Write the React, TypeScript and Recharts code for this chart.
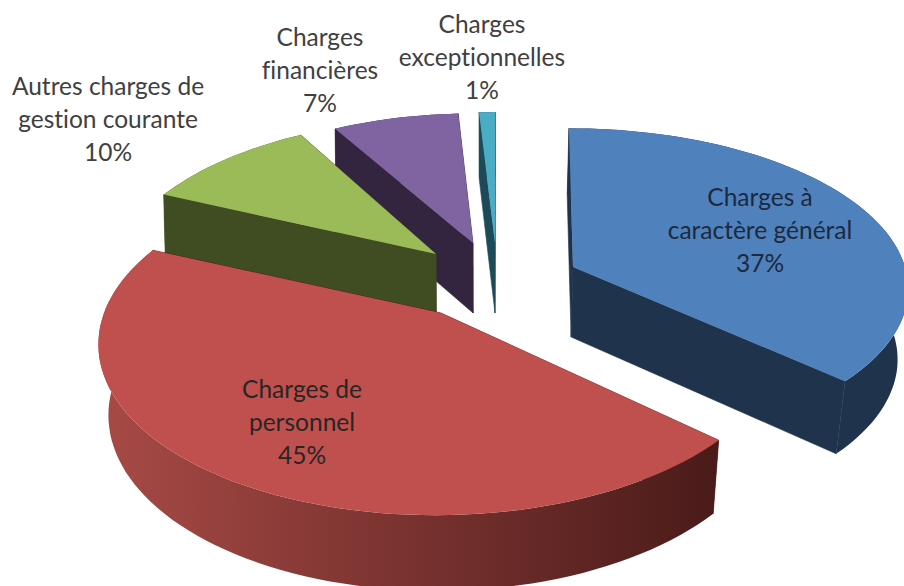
import { PieChart, Pie } from 'recharts';

// painted back to front, counter-clockwise from north
const categories = ['exceptionnelles', 'financieres', 'gestion', 'personnel', 'general'];
const values = [1, 7.45, 10.05, 44.8, 36.7];
const labelLines = [
  ['Charges', 'exceptionnelles'],
  ['Charges', 'financières'],
  ['Autres charges de', 'gestion courante'],
  ['Charges de', 'personnel'],
  ['Charges à', 'caractère général'],
];

const data = categories.map((name, i) => ({ name, value: values[i], lines: labelLines[i] }));

// look of each slice: explode offset from the pie centre, rim shrink, camera, colours, label place
const sliceStyle: Record<string, any> = {
  exceptionnelles: { dx: 58, dy: -70, scale: 0.94, persp: 5.2, squash: 0.5, lean: 0.005, top: '#4bacc6', wall: '#1c4a58', rimA: '#1c4a58', rimB: '#1c4a58', lx: 482, ly: 33, ink: '#404040' },
  financieres: { dx: 36, dy: -70, scale: 0.97, persp: 5.2, squash: 0.48, lean: 0.005, top: '#8064a2', wall: '#33253f', rimA: '#33253f', rimB: '#33253f', lx: 320, ly: 46, ink: '#404040' },
  gestion: { dx: -1, dy: -59, scale: 0.97, persp: 5.2, squash: 0.5, lean: 0.005, top: '#9bbb59', wall: '#404c22', rimA: '#404c22', rimB: '#404c22', lx: 108, ly: 95, ink: '#404040' },
  personnel: { dx: 4, dy: 0, scale: 1.015, persp: 6, squash: 0.5, lean: 0.025, top: '#c0504d', wall: '#4a1b19', rimA: '#a84a46', rimB: '#4a1b19', lx: 302, ly: 398, ink: '#262626' },
  general: { dx: 136, dy: -46, scale: 1, persp: 8, squash: 0.47, lean: 0.026, top: '#4f81bd', wall: '#1f334c', rimA: '#1f334c', rimB: '#1f334c', lx: 760, ly: 206, ink: '#1c2a3c' },
};

const DEPTH = 70;
const VANISH_X = 500;

// project a point of the pie disc to the screen, angle in recharts degrees
function project(ax: number, ay: number, r: number, deg: number, st: any) {
  const rad = (deg * Math.PI) / 180;
  const east = Math.cos(rad);
  const north = Math.sin(rad);
  const s = 1 / (1 + north / st.persp);
  const x = ax + r * east * s + (ax - VANISH_X) * (s - 1) * 0.5;
  const y = ay - r * st.squash * north * s;
  return { x, y, s };
}

const toPath = (pts: { x: number; y: number }[]) =>
  pts.map((p, i) => `${i ? 'L' : 'M'}${p.x.toFixed(1)} ${p.y.toFixed(1)}`).join(' ') + ' Z';

function Slice3D(props: any) {
  const { cx, cy, outerRadius, startAngle, endAngle, payload } = props;
  const st = sliceStyle[payload.name];
  const ax = cx + st.dx;
  const ay = cy + st.dy;
  const r = outerRadius * st.scale;
  const drop = (p: { x: number; y: number; s: number }) => ({
    x: p.x + (VANISH_X - p.x) * st.lean,
    y: p.y + DEPTH * (0.6 + p.s * 0.4),
  });
  const arc: { x: number; y: number; s: number }[] = [];
  const steps = Math.max(2, Math.ceil(Math.abs(endAngle - startAngle) / 2));
  for (let i = 0; i <= steps; i++) {
    arc.push(project(ax, ay, r, startAngle + ((endAngle - startAngle) * i) / steps, st));
  }
  const apex = { x: ax, y: ay, s: 1 };
  const first = arc[0];
  const last = arc[arc.length - 1];
  const gradId = `rim-${payload.name}`;
  return (
    <g>
      <defs>
        <linearGradient id={gradId} gradientUnits="userSpaceOnUse" x1={98} y1={0} x2={718} y2={0}>
          <stop offset="0%" stopColor={st.rimA} />
          <stop offset="100%" stopColor={st.rimB} />
        </linearGradient>
      </defs>
      <path d={toPath([first, apex, drop(apex), drop(first)])} fill={st.wall} stroke={st.wall} strokeWidth={0.6} />
      <path d={toPath([apex, last, drop(last), drop(apex)])} fill={st.wall} stroke={st.wall} strokeWidth={0.6} />
      <path d={toPath([...arc, ...arc.map(drop).reverse()])} fill={`url(#${gradId})`} />
      <path d={toPath([apex, ...arc])} fill={st.top} />
    </g>
  );
}

function SliceLabel(props: any) {
  const { payload, value } = props;
  const st = sliceStyle[payload.name];
  const rows = [...payload.lines, `${Math.round(value)}%`];
  return (
    <text textAnchor="middle" fontFamily="Lato" fontSize={24.5} fill={st.ink} style={{ fontVariantLigatures: 'none' }}>
      {rows.map((row: string, i: number) => (
        <tspan key={row} x={st.lx} y={st.ly + i * 33}>{row}</tspan>
      ))}
    </text>
  );
}

export default function App() {
  return (
    <div style={{ position: 'absolute', left: 0, top: 0, width: 904, height: 586, background: '#fff' }}>
      <PieChart width={904} height={586} margin={{ top: 0, right: 0, bottom: 0, left: 0 }}>
        <Pie
          data={data}
          dataKey="value"
          nameKey="name"
          cx={437}
          cy={313}
          outerRadius={332}
          startAngle={90}
          endAngle={450}
          paddingAngle={0}
          stroke="none"
          shape={Slice3D}
          label={SliceLabel}
          labelLine={false}
          isAnimationActive={false}
        />
      </PieChart>
    </div>
  );
}
